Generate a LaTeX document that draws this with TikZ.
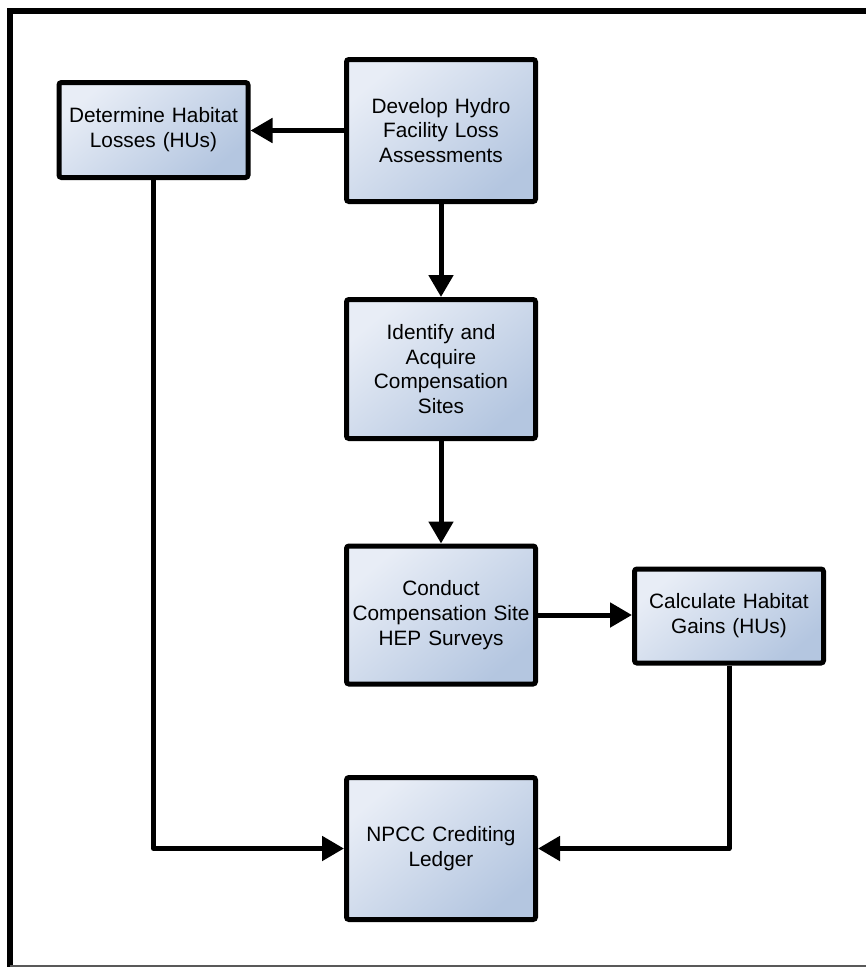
\documentclass[tikz,border=0pt]{standalone}
\usepackage{fontspec}
\setmainfont{Liberation Sans}
\usetikzlibrary{arrows.meta}
\definecolor{boxlight}{HTML}{E8EDF6}
\definecolor{boxdark}{HTML}{B4C6E0}
\begin{document}
\begin{tikzpicture}[x=1pt,y=-1pt,
  procbox/.style={draw=black, line width=5pt, rounded corners=2.5pt,
    top color=boxlight, bottom color=boxdark, shading angle=40,
    minimum width=189pt, text width=187pt, align=center, inner sep=0pt,
    font=\fontsize{20.8pt}{24.8pt}\selectfont},
  tallbox/.style={procbox, minimum height=141pt},
  shortbox/.style={procbox, minimum height=95pt},
  conn/.style={line width=5pt, line join=round,
    -{Triangle[length=22pt,width=24pt]}}]
\useasboundingbox (0,0) rectangle (866,967);
% outer frame (cropped at right and bottom)
\draw[line width=6pt] (10.3,967) -- (10.3,10.5) -- (866,10.5);
\draw[line width=1.5pt, color=black!65] (10,966.2) -- (866,966.2);
% boxes
\node[shortbox] (A) at (153.5,130) {Determine Habitat\\Losses (HUs)};
\node[tallbox, minimum height=142pt] (B) at (441,130.5) {Develop Hydro\\Facility Loss\\Assessments};
\node[tallbox, minimum height=139pt] (C) at (441,369) {Identify and\\Acquire\\Compensation\\Sites};
\node[tallbox, minimum height=138pt] (D) at (441,615) {Conduct\\Compensation Site\\HEP Surveys};
\node[shortbox, minimum height=94pt] (E) at (729,616) {Calculate Habitat\\Gains (HUs)};
\node[tallbox, minimum height=142pt] (F) at (441,848.5) {NPCC Crediting\\Ledger};
% connectors
\draw[conn] (B.west) -- (B.west -| A.east);
\draw[conn] (B.south) -- (C.north);
\draw[conn] (C.south) -- (D.north);
\draw[conn] (D.east) -- (D.east -| E.west);
\draw[conn] (A.south) |- (F.west);
\draw[conn] (E.south) |- (F.east);
\end{tikzpicture}
\end{document}
